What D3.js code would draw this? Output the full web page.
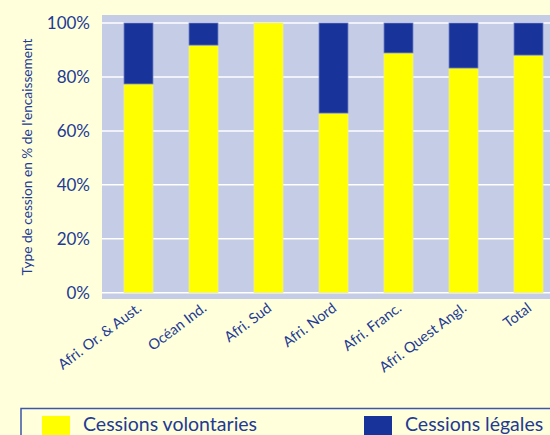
<!DOCTYPE html>
<html>
<head>
<meta charset="utf-8">
<script src="https://cdn.jsdelivr.net/npm/d3@7"></script>
<style>
  body { margin: 0; background: #FFFFDC; }
  svg { display: block; font-family: Lato, "DejaVu Sans", sans-serif; }
</style>
</head>
<body>
<div id="chart"></div>
<script>
var categories = ["Afri. Or. & Aust.", "Océan Ind.", "Afri. Sud", "Afri. Nord", "Afri. Franc.", "Afri. Quest Angl.", "Total"];
var volontaires = [77.4, 91.8, 100, 66.6, 88.9, 83.3, 88.1];
var legales = [22.6, 8.2, 0, 33.4, 11.1, 16.7, 11.9];
var yTicks = [0, 20, 40, 60, 80, 100];
var seriesNames = ["Cessions volontaries", "Cessions légales"];

var width = 550, height = 435,
    textColor = "#223a94",
    yellow = "#FFFF00",
    blue = "#18339A";

var svg = d3.select("#chart").append("svg")
    .attr("width", width)
    .attr("height", height);

// plot background
svg.append("rect")
    .attr("x", 102).attr("y", 15)
    .attr("width", 460).attr("height", 284)
    .attr("fill", "#C5CCE5");

var x = d3.scaleBand()
    .domain(categories)
    .range([106, 561])
    .paddingInner(0.554)
    .paddingOuter(0.277);

var y = d3.scaleLinear()
    .domain([0, 100])
    .range([292.7, 23]);

// gridlines
svg.selectAll("line.grid").data(yTicks).enter()
    .append("line")
    .attr("class", "grid")
    .attr("x1", 102).attr("x2", 562)
    .attr("y1", function(d) { return y(d); })
    .attr("y2", function(d) { return y(d); })
    .attr("stroke", "#ffffff")
    .attr("stroke-width", 1.5);

// y axis labels
var yAxis = svg.append("g")
    .attr("transform", "translate(90,0)")
    .call(d3.axisLeft(y).tickValues(yTicks).tickSize(0).tickPadding(0)
        .tickFormat(function(d) { return d + "%"; }));
yAxis.select(".domain").remove();
yAxis.selectAll("text")
    .attr("fill", textColor)
    .attr("font-size", "17px")
    .attr("font-family", "Lato, sans-serif");

// stacked bars
var stackData = categories.map(function(c, i) {
    return { cat: c, vol: volontaires[i], leg: legales[i] };
});
var stack = d3.stack().keys(["vol", "leg"])(stackData);
var colors = [yellow, blue];
var strokes = ["#f2f08a", "#6f82c8"];

svg.selectAll("g.series").data(stack).enter()
    .append("g")
    .attr("class", "series")
    .attr("fill", function(d, i) { return colors[i]; })
    .attr("stroke", function(d, i) { return strokes[i]; })
    .attr("stroke-width", 0.8)
    .selectAll("rect").data(function(d) { return d; }).enter()
    .append("rect")
    .attr("x", function(d) { return x(d.data.cat); })
    .attr("width", x.bandwidth())
    .attr("y", function(d) { return y(d[1]); })
    .attr("height", function(d) { return y(d[0]) - y(d[1]); });

// x labels
svg.selectAll("text.xlab").data(categories).enter()
    .append("text")
    .attr("class", "xlab")
    .attr("text-anchor", "end")
    .attr("transform", function(d) {
        return "translate(" + (x(d) + x.bandwidth() / 2 + 4) + ",310) rotate(-37)";
    })
    .attr("fill", textColor)
    .attr("font-size", "14.5px")
    .text(function(d) { return d; });

// y title
svg.append("text")
    .attr("transform", "translate(32,157) rotate(-90)")
    .attr("text-anchor", "middle")
    .attr("fill", textColor)
    .attr("font-size", "13.7px")
    .text("Type de cession en % de l'encaissement");

// legend
svg.append("rect")
    .attr("x", 21).attr("y", 408.5)
    .attr("width", 560).attr("height", 60)
    .attr("fill", "none")
    .attr("stroke", "#3d56a8")
    .attr("stroke-width", 1.5);

var legendX = [42, 364];
var legend = svg.selectAll("g.legend").data(seriesNames).enter()
    .append("g")
    .attr("class", "legend")
    .attr("transform", function(d, i) { return "translate(" + legendX[i] + ",416)"; });
legend.append("rect")
    .attr("width", 28).attr("height", 25)
    .attr("fill", function(d, i) { return colors[i]; });
legend.append("text")
    .attr("x", 41).attr("y", 15)
    .attr("fill", textColor)
    .attr("font-size", "19.5px")
    .text(function(d) { return d; });
</script>
</body>
</html>
